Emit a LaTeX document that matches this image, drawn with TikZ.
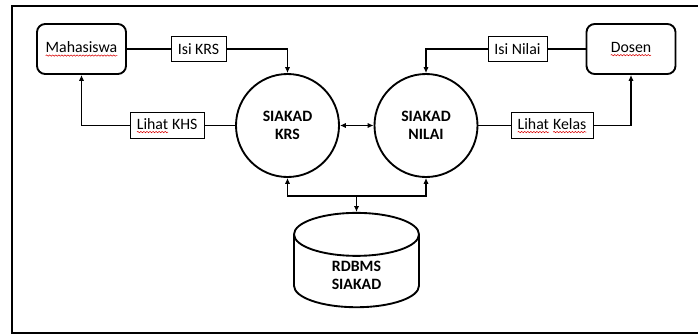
\documentclass[tikz,border=0pt]{standalone}
\usepackage{fontspec}
\setmainfont{Carlito}
\usetikzlibrary{shapes.geometric, arrows.meta, positioning, decorations.pathmorphing}
\newcommand{\dfdfont}{\fontsize{13.5}{15.3}\selectfont}
\tikzset{
  ent/.style = {rectangle, rounded corners=7pt, minimum width=2.67cm, minimum height=1.5cm,
                align=center, draw, line width=1.6pt},
  proc/.style = {circle, minimum size=3.09cm, inner sep=0pt, align=center,
                 font=\dfdfont\bfseries, draw, line width=1.6pt},
  flow/.style = {rectangle, minimum height=0.76cm, inner sep=0pt, align=center,
                 draw, line width=0.8pt},
  store/.style = {cylinder, shape border rotate=90, aspect=0.75, minimum width=3.75cm,
                  minimum height=2.83cm, align=center,
                  font=\dfdfont\bfseries, draw, line width=1.6pt},
  arrow/.style = {-{Latex[length=5pt, width=4.5pt]}, line width=1.3pt},
  darrow/.style = {{Latex[length=5pt, width=4.5pt]}-{Latex[length=5pt, width=4.5pt]}, line width=1.3pt},
  spell/.style = {red!85!black, line width=0.45pt, sharp corners, decorate,
                  decoration={snake, amplitude=0.55pt, segment length=2.6pt}},
}
% wavy red mark under a word
\newcommand{\typo}[1]{\tikz[baseline=(w.base)]{%
  \node[draw=none, rectangle, sharp corners, minimum width=0pt, minimum height=0pt,
        inner sep=0pt, outer sep=0pt] (w) {#1};
  \draw[spell] ([yshift=-2.6pt]w.base west) -- ([yshift=-2.6pt]w.base east);}}

\begin{document}
\begin{tikzpicture}[x=0.03cm, y=-0.03cm, font=\dfdfont]
  \useasboundingbox (0,0) rectangle (698,334);

  % frame
  \draw[line width=2.2pt] (702,6) -- (12,6) -- (12,333) -- (702,333);

  % externals
  \node[ent] (Mhs)   at (81.5,49) {\typo{Mahasiswa}};
  \node[ent] (Dosen) at (631,49)  {\typo{Dosen}};

  % processes
  \node[proc] (KRS)   at (287.5,125.5) {SIAKAD\\KRS};
  \node[proc] (Nilai) at (426,125.5)   {SIAKAD\\NILAI};

  % data store
  \node[store] (DB) at (356.5,275) {RDBMS\\SIAKAD};

  % flow labels
  \node[flow, minimum width=1.65cm] (IsiKRS)   at (198.5,49)  {Isi KRS};
  \node[flow, minimum width=2.22cm] (KHS)      at (167,125.5) {\typo{Lihat} KHS};
  \node[flow, minimum width=1.77cm] (IsiNilai) at (517.5,49)  {Isi Nilai};
  \node[flow, minimum width=2.46cm] (Kelas)    at (552,125.5) {\typo{Lihat} \typo{Kelas}};

  % Mahasiswa <-> SIAKAD KRS
  \draw[line width=1.3pt] (Mhs.east) -- (IsiKRS.west);
  \draw[arrow] (IsiKRS.east) -| (KRS.north);
  \draw[line width=1.3pt] (KRS.west) -- (KHS.east);
  \draw[arrow] (KHS.west) -| (Mhs.south);

  % Dosen <-> SIAKAD NILAI
  \draw[line width=1.3pt] (Dosen.west) -- (IsiNilai.east);
  \draw[arrow] (IsiNilai.west) -| (Nilai.north);
  \draw[line width=1.3pt] (Nilai.east) -- (Kelas.west);
  \draw[arrow] (Kelas.east) -| (Dosen.south);

  % between the processes
  \draw[darrow] (KRS.east) -- (Nilai.west);

  % store
  \coordinate (J) at (356.5,196);
  \draw[arrow] (J) -| (KRS.south);
  \draw[arrow] (J) -| (Nilai.south);
  \draw[arrow] (J) -- (DB.top);

\end{tikzpicture}
\end{document}
